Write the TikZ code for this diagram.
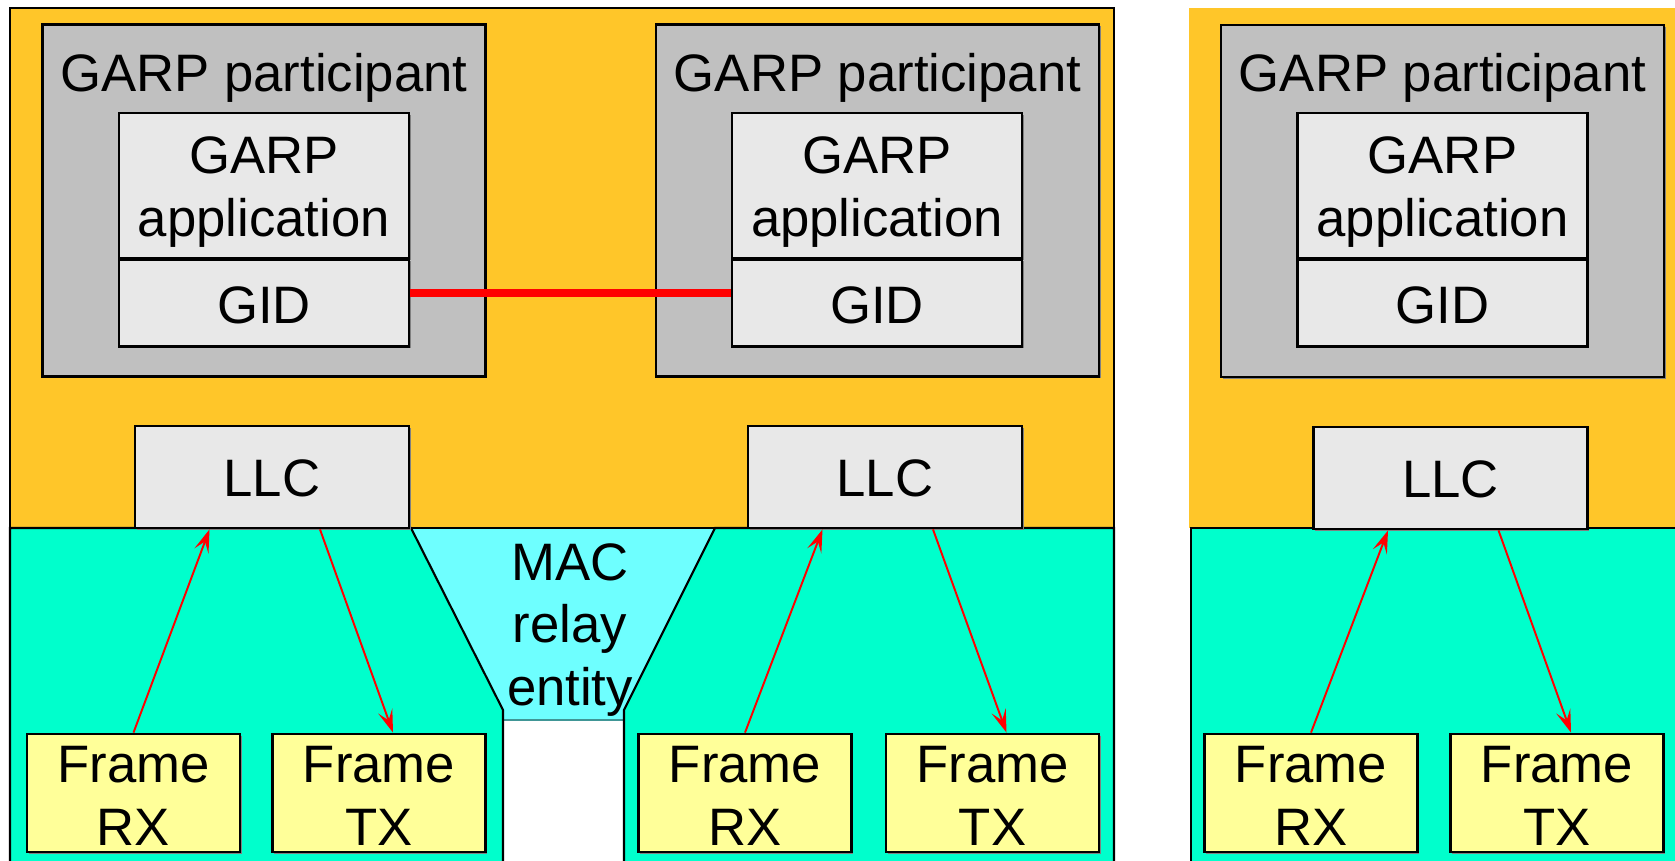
\documentclass[tikz,border=0pt]{standalone}
\usepackage{fontspec}
\setmainfont{Liberation Sans}
\usepackage{tikz}
\usetikzlibrary{arrows.meta,positioning,calc,shadows}
\definecolor{garporange}{RGB}{255,198,41}
\definecolor{garpteal}{RGB}{0,255,204}
\definecolor{relaycyan}{RGB}{110,255,255}
\definecolor{relayedge}{RGB}{64,150,150}
\definecolor{partgray}{RGB}{192,192,192}
\definecolor{boxgray}{RGB}{232,232,232}
\definecolor{frameyellow}{RGB}{255,255,153}
\tikzset{blk/.style={draw=black,line width=1.6pt,inner sep=0pt,align=center,
    drop shadow={shadow xshift=1.1pt,shadow yshift=-1.1pt,opacity=1,fill=black!50}}}
\tikzset{part/.style={blk,fill=partgray,minimum width=8.86cm,minimum height=7.04cm}}
\tikzset{appbox/.style={blk,fill=boxgray,minimum width=5.8cm,minimum height=2.9cm,text height=64.7pt,text depth=6.3pt}}
\tikzset{gidbox/.style={blk,fill=boxgray,minimum width=5.8cm,minimum height=1.74cm,text height=23.6pt,text depth=0pt}}
\tikzset{llcbox/.style={blk,fill=boxgray,minimum width=5.48cm,minimum height=2.04cm,text height=22.4pt,text depth=0pt}}
\tikzset{framebox/.style={blk,fill=frameyellow,minimum width=4.26cm,minimum height=2.36cm,text height=59.5pt,text depth=0pt}}
\tikzset{flow/.style={draw=red,line width=1.1pt,-{Stealth[length=0.46cm,width=0.3cm,inset=0.2cm]}}}

\begin{document}
\begin{tikzpicture}[x=0.02cm, y=-0.02cm,
    every node/.style={font=\fontsize{30}{35.8}\selectfont}]
\useasboundingbox (0,0) rectangle (1675,861);
    % bridge: two ports
    \fill[garporange] (10,8) rectangle (1114,528);
    \fill[relaycyan] (411,528) -- (715,528) -- (624,710) -- (624,720) -- (503,720) -- (503,710) -- cycle;
    \draw[relayedge, line width=1pt] (503,720) -- (624,720);
    \draw[line width=1.2pt, fill=garpteal] (10,528) -- (411,528) -- (503,710) -- (503,875) -- (10,875) -- cycle;
    \draw[line width=1.2pt, fill=garpteal] (715,528) -- (1114,528) -- (1114,875) -- (624,875) -- (624,710) -- cycle;
    \draw[line width=1.4pt] (10,875) -- (10,8) -- (1114,8) -- (1114,875);
    \draw[line width=1.2pt] (10,528) -- (1114,528);
    % end station
    \fill[garporange] (1189,8) rectangle (1680,528);
    \draw[line width=1.2pt, fill=garpteal] (1191,875) -- (1191,528) -- (1680,528) -- (1680,875) -- cycle;

    \node[align=center, inner sep=0pt] (relay) at (570,630) {MAC\\relay\\entity};

    \node[part] (P1) at (264,200.5) {};
    \node[part] (P2) at (877.5,200.5) {};
    \node[part] (P3) at (1442.5,201) {};
    \node[anchor=base, inner sep=0pt] (T1) at (264,92) {GARP participant};
    \node[anchor=base, inner sep=0pt] (T2) at (877.5,92) {GARP participant};
    \node[anchor=base, inner sep=0pt] (T3) at (1442.5,92) {GARP participant};

    \node[appbox] (A1) at (264,185.5) {GARP\\application};
    \node[appbox] (A2) at (877,185.5) {GARP\\application};
    \node[appbox] (A3) at (1442.5,185.5) {GARP\\application};
    \node[gidbox] (G1) at (264,303) {GID};
    \node[gidbox] (G2) at (877,303) {GID};
    \node[gidbox] (G3) at (1442.5,303) {GID};

    \node[llcbox] (L1) at (272,477) {LLC};
    \node[llcbox] (L2) at (885,477) {LLC};
    \node[llcbox] (L3) at (1450.5,478) {LLC};

    \node[framebox] (RX1) at (133.5,793) {Frame\\RX};
    \node[framebox] (TX1) at (379,793) {Frame\\TX};
    \node[framebox] (RX2) at (745,793) {Frame\\RX};
    \node[framebox] (TX2) at (992.5,793) {Frame\\TX};
    \node[framebox] (RX3) at (1311,793) {Frame\\RX};
    \node[framebox] (TX3) at (1557,793) {Frame\\TX};

    \draw[red, line width=5pt] ([yshift=0.2cm]G1.east) -- ([yshift=0.2cm]G2.west);

    \draw[flow] (RX1.north) -- ([xshift=-1.25cm]L1.south);
    \draw[flow] ([xshift=0.96cm]L1.south) -- ([xshift=0.28cm]TX1.north);
    \draw[flow] (RX2.north) -- ([xshift=-1.25cm]L2.south);
    \draw[flow] ([xshift=0.96cm]L2.south) -- ([xshift=0.28cm]TX2.north);
    \draw[flow] (RX3.north) -- ([xshift=-1.25cm]L3.south);
    \draw[flow] ([xshift=0.96cm]L3.south) -- ([xshift=0.28cm]TX3.north);
\end{tikzpicture}
\end{document}
